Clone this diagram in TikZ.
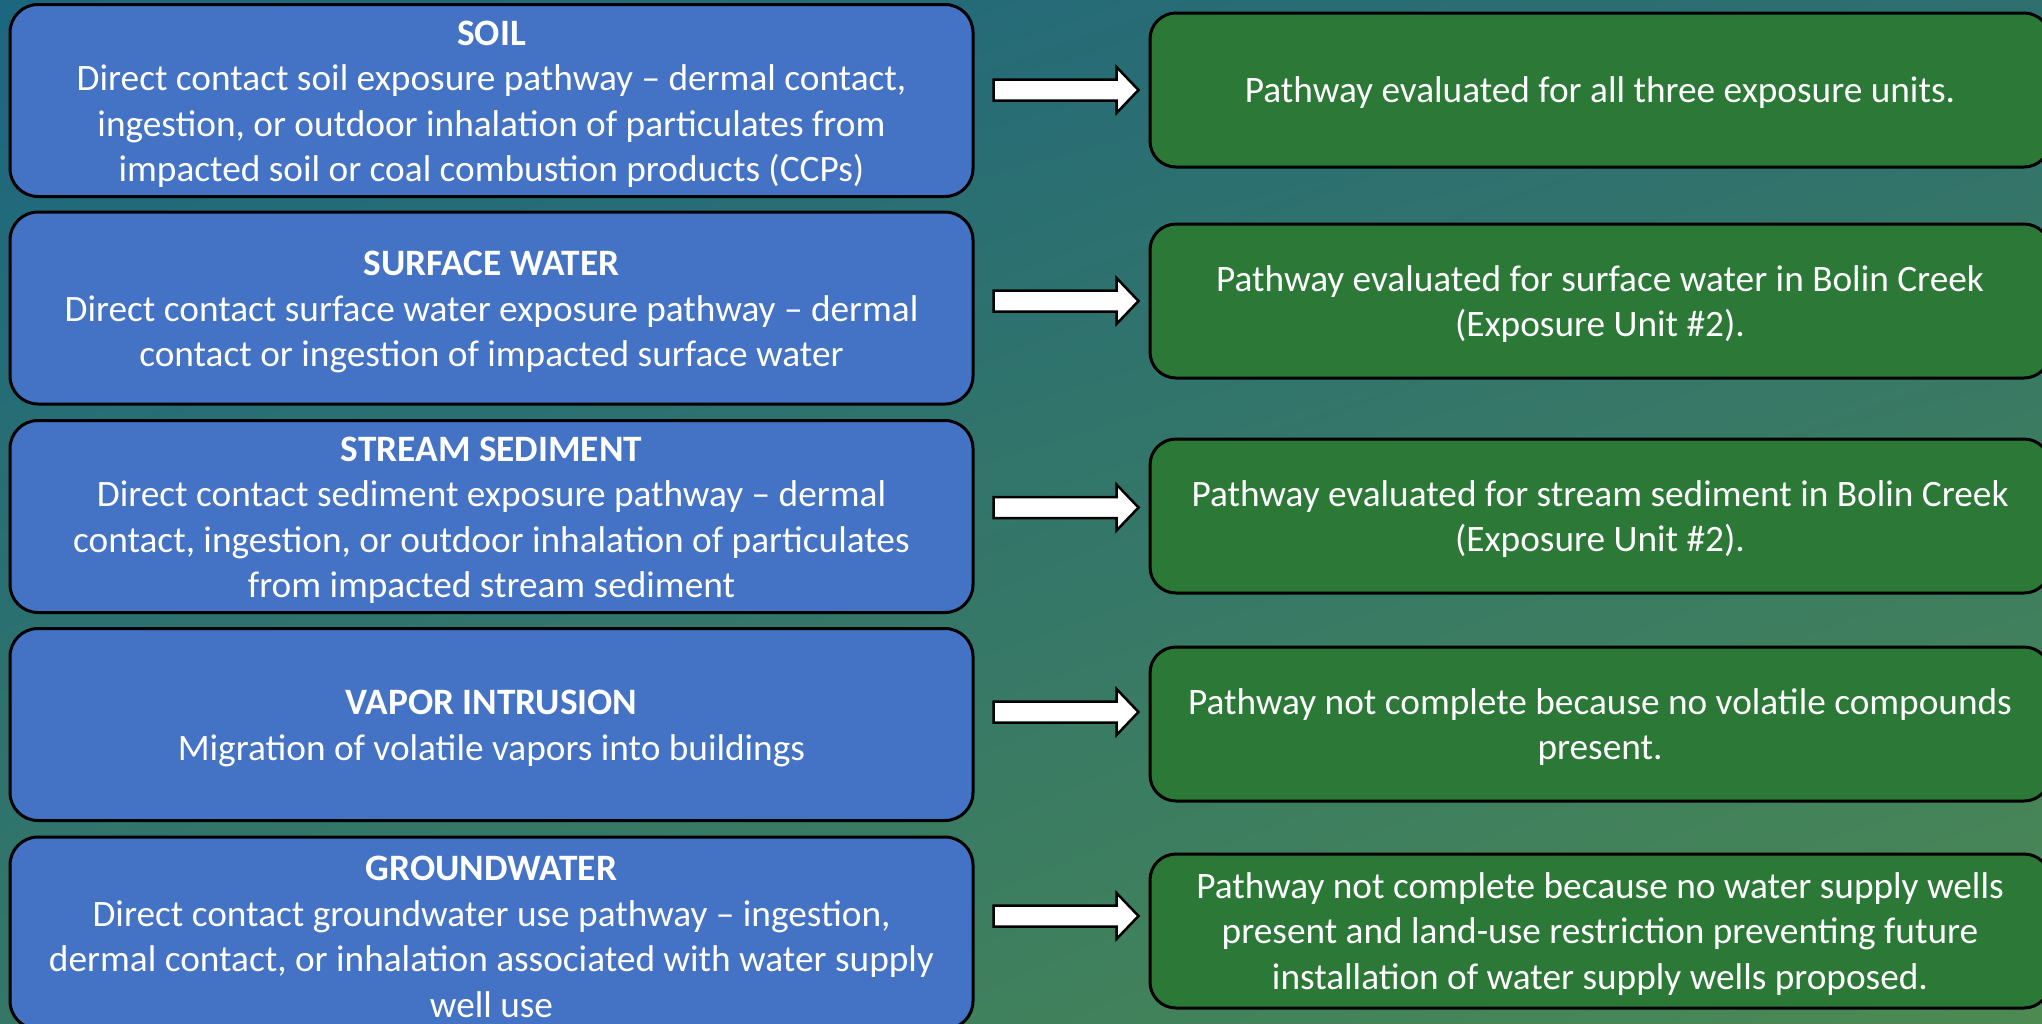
\documentclass[tikz,border=0pt]{standalone}
\usepackage{fontspec}
\setmainfont{Carlito}
\usetikzlibrary{calc,shadings}
\definecolor{bgUL}{HTML}{1C6680}
\definecolor{bgUR}{HTML}{2F706E}
\definecolor{bgLL}{HTML}{347767}
\definecolor{bgLR}{HTML}{4C8A52}
\definecolor{boxblue}{HTML}{4472C4}
\definecolor{boxgreen}{HTML}{2B7837}
\tikzset{
  txt/.style={text=white, align=center, font=\fontsize{37.3}{45.5}\selectfont, inner sep=0pt},
  bluebox/.style={draw=black, line width=3pt, fill=boxblue, rounded corners=28pt,
    minimum width=963pt, minimum height=192pt, inner sep=0pt},
  greenbox/.style={draw=black, line width=3pt, fill=boxgreen, rounded corners=26pt,
    minimum width=900pt, minimum height=154pt, inner sep=0pt},
  blockarrow/.style={draw=black, line width=2.5pt, fill=white, line join=miter}
}
\newcommand{\ttl}[1]{\textbf{#1}}
\begin{document}
\begin{tikzpicture}[x=1pt,y=-1pt]
\useasboundingbox (0,0) rectangle (2042,1023);
\clip (0,0) rectangle (2042,1023);
\shade[upper left=bgUL, upper right=bgUR, lower left=bgLL, lower right=bgLR] (0,0) rectangle (2042,1023);

\node[bluebox] (b1) at (491.5,100.5) {};
\node[bluebox] (b2) at (491.5,308) {};
\node[bluebox] (b3) at (491.5,516.5) {};
\node[bluebox] (b4) at (491.5,724.5) {};
\node[bluebox] (b5) at (491.5,933) {};

\node[greenbox] (g1) at (1600,90) {};
\node[greenbox] (g2) at (1600,301) {};
\node[greenbox] (g3) at (1600,516) {};
\node[greenbox] (g4) at (1600,724) {};
\node[greenbox] (g5) at (1600,931) {};

\node[txt] (b1t) at ([yshift=-4pt]b1.center) {\ttl{SOIL}\\Direct contact soil exposure pathway – dermal contact,\\ingestion, or outdoor inhalation of particulates from\\impacted soil or coal combustion products (CCPs)};
\node[txt] (b2t) at ([yshift=-4pt]b2.center) {\ttl{SURFACE WATER}\\Direct contact surface water exposure pathway – dermal\\contact or ingestion of impacted surface water};
\node[txt] (b3t) at ([yshift=-4pt]b3.center) {\ttl{STREAM SEDIMENT}\\Direct contact sediment exposure pathway – dermal\\contact, ingestion, or outdoor inhalation of particulates\\from impacted stream sediment};
\node[txt] (b4t) at ([yshift=-4pt]b4.center) {\ttl{VAPOR INTRUSION}\\Migration of volatile vapors into buildings};
\node[txt] (b5t) at ([yshift=-4pt]b5.center) {\ttl{GROUNDWATER}\\Direct contact groundwater use pathway – ingestion,\\dermal contact, or inhalation associated with water supply\\well use};

\node[txt] (g1t) at ([yshift=-3pt]g1.center) {Pathway evaluated for all three exposure units.};
\node[txt] (g2t) at ([yshift=-3pt]g2.center) {Pathway evaluated for surface water in Bolin Creek\\(Exposure Unit \#2).};
\node[txt] (g3t) at ([yshift=-3pt]g3.center) {Pathway evaluated for stream sediment in Bolin Creek\\(Exposure Unit \#2).};
\node[txt] (g4t) at ([yshift=-3pt]g4.center) {Pathway not complete because no volatile compounds\\present.};
\node[txt] (g5t) at ([yshift=-3pt]g5.center) {Pathway not complete because no water supply wells\\present and land-use restriction preventing future\\installation of water supply wells proposed.};

\foreach \i/\yy in {1/90, 2/301, 3/507.5, 4/712, 5/916}{
  \coordinate (t\i) at ($(b\i.east |- 0,\yy)+(19,0)$);
  \draw[blockarrow] (t\i) ++(0,-10.5) -- ++(123,0) -- ++(0,-12.5) -- ++(22,23)
    -- ++(-22,23) -- ++(0,-12.5) -- ++(-123,0) -- cycle;
}
\end{tikzpicture}
\end{document}
